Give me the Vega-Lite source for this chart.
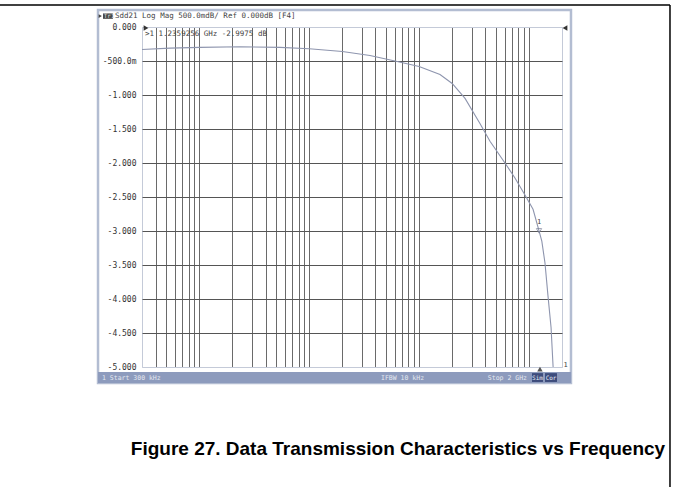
{
  "$schema": "https://vega.github.io/schema/vega-lite/v6.json",
  "width": 420,
  "height": 340,
  "autosize": "none",
  "padding": {"left": 142, "top": 27, "right": 114, "bottom": 120},
  "background": "white",
  "config": {
    "view": {"stroke": "#c4cad8", "strokeWidth": 1},
    "text": {"font": "DejaVu Sans Mono"}
  },
  "resolve": {"axis": {"x": "independent", "y": "independent"}},
  "datasets": {
    "curve": [
      {"freq": 300000, "db": -0.33},
      {"freq": 540000, "db": -0.31},
      {"freq": 1010000, "db": -0.3},
      {"freq": 2340000, "db": -0.29},
      {"freq": 5400000, "db": -0.3},
      {"freq": 10000000, "db": -0.32},
      {"freq": 20000000, "db": -0.36},
      {"freq": 35700000, "db": -0.42},
      {"freq": 60300000, "db": -0.5},
      {"freq": 100000000, "db": -0.58},
      {"freq": 155000000, "db": -0.7},
      {"freq": 200000000, "db": -0.83},
      {"freq": 262000000, "db": -1.05},
      {"freq": 358000000, "db": -1.42},
      {"freq": 442000000, "db": -1.68},
      {"freq": 605000000, "db": -2.0},
      {"freq": 746000000, "db": -2.22},
      {"freq": 920000000, "db": -2.47},
      {"freq": 1090000000, "db": -2.68},
      {"freq": 1235925600, "db": -2.9975},
      {"freq": 1310000000, "db": -3.15},
      {"freq": 1400000000, "db": -3.47},
      {"freq": 1490000000, "db": -3.95},
      {"freq": 1590000000, "db": -4.42},
      {"freq": 1660000000, "db": -5.0}
    ],
    "one": [{}]
  },
  "data": {"name": "one"},
  "layer": [
    {
      "data": {"name": "curve"},
      "mark": {"type": "line", "color": "#8e95ae", "strokeWidth": 1.1},
      "encoding": {
        "x": {
          "field": "freq",
          "type": "quantitative",
          "scale": {"type": "log", "domain": [300000, 2000000000], "nice": false},
          "axis": {
            "values": [400000, 500000, 600000, 700000, 800000, 900000, 1000000, 2000000, 3000000, 4000000, 5000000, 6000000, 7000000, 8000000, 9000000, 10000000, 20000000, 30000000, 40000000, 50000000, 60000000, 70000000, 80000000, 90000000, 100000000, 200000000, 300000000, 400000000, 500000000, 600000000, 700000000, 800000000, 900000000, 1000000000],
            "labels": false,
            "ticks": false,
            "domain": false,
            "grid": true,
            "gridColor": "#6a6a6a",
            "gridWidth": 1,
            "title": null
          }
        },
        "y": {
          "field": "db",
          "type": "quantitative",
          "scale": {"domain": [-5, 0], "nice": false, "zero": false},
          "axis": {
            "values": [0, -0.5, -1, -1.5, -2, -2.5, -3, -3.5, -4, -4.5, -5],
            "labelExpr": "datum.value == 0 ? '0.000' : datum.value == -0.5 ? '-500.0m' : '-' + format(-datum.value, '.3f')",
            "labelOverlap": false,
            "labelFont": "DejaVu Sans Mono",
            "labelFontSize": 8,
            "labelColor": "#333333",
            "labelPadding": 6,
            "ticks": false,
            "domain": false,
            "grid": true,
            "gridColor": {"condition": {"test": "datum.value == 0 || datum.value == -5", "value": "#c4cad8"}, "value": "#555555"},
            "gridWidth": 1,
            "title": null
          }
        }
      }
    },
    {
      "mark": {"type": "rect", "fill": "transparent", "stroke": "#b3bdd2", "strokeWidth": 2.5},
      "encoding": {
        "x": {"datum": 119300, "type": "quantitative", "axis": null},
        "x2": {"datum": 2414000000},
        "y": {"datum": 0.25, "type": "quantitative", "axis": null},
        "y2": {"datum": -5.235}
      }
    },
    {
      "mark": {"type": "rect", "fill": "#8d9bbd"},
      "encoding": {
        "x": {"datum": 119300, "type": "quantitative", "axis": null},
        "x2": {"datum": 2414000000},
        "y": {"datum": -5.074, "type": "quantitative", "axis": null},
        "y2": {"datum": -5.235}
      }
    },
    {
      "mark": {"type": "rule", "color": "black", "strokeWidth": 1.5},
      "encoding": {
        "x": {"datum": 10000, "type": "quantitative", "axis": null},
        "x2": {"datum": 19240000000},
        "y": {"datum": 0.3235, "type": "quantitative", "axis": null}
      }
    },
    {
      "mark": {"type": "rule", "color": "black", "strokeWidth": 1.5},
      "encoding": {
        "x": {"datum": 19240000000, "type": "quantitative", "axis": null},
        "y": {"datum": 0.3235, "type": "quantitative", "axis": null},
        "y2": {"datum": -7.5}
      }
    },
    {
      "mark": {"type": "text", "fontSize": 7.5, "color": "#444", "align": "left", "baseline": "middle"},
      "encoding": {
        "x": {"datum": 319500, "type": "quantitative", "axis": null},
        "y": {"datum": -0.103, "type": "quantitative", "axis": null},
        "text": {"value": ">1  1.2359256 GHz -2.9975 dB"}
      }
    },
    {
      "mark": {"type": "point", "shape": "triangle-down", "filled": false, "stroke": "#7a8098", "size": 28, "strokeWidth": 1},
      "encoding": {
        "x": {"datum": 1235925600, "type": "quantitative", "axis": null},
        "y": {"datum": -2.9975, "type": "quantitative", "axis": null}
      }
    },
    {
      "mark": {"type": "text", "fontSize": 7, "color": "#444", "dy": -9},
      "encoding": {
        "x": {"datum": 1235925600, "type": "quantitative", "axis": null},
        "y": {"datum": -2.9975, "type": "quantitative", "axis": null},
        "text": {"value": "1"}
      }
    },
    {
      "mark": {"type": "point", "shape": "triangle-right", "filled": true, "color": "#333", "size": 30, "opacity": 1},
      "encoding": {
        "x": {"datum": 326300, "type": "quantitative", "axis": null},
        "y": {"datum": -0.015, "type": "quantitative", "axis": null}
      }
    },
    {
      "mark": {"type": "point", "shape": "triangle-left", "filled": true, "color": "#333", "size": 30, "opacity": 1},
      "encoding": {
        "x": {"datum": 2129000000, "type": "quantitative", "axis": null},
        "y": {"datum": -0.015, "type": "quantitative", "axis": null}
      }
    },
    {
      "mark": {"type": "point", "shape": "triangle-up", "filled": true, "color": "#555", "size": 30, "opacity": 1},
      "encoding": {
        "x": {"datum": 1260000000, "type": "quantitative", "axis": null},
        "y": {"datum": -5.03, "type": "quantitative", "axis": null}
      }
    },
    {
      "mark": {"type": "text", "fontSize": 7, "color": "#444", "align": "center", "baseline": "middle"},
      "encoding": {
        "x": {"datum": 2160000000, "type": "quantitative", "axis": null},
        "y": {"datum": -4.97, "type": "quantitative", "axis": null},
        "text": {"value": "1"}
      }
    },
    {
      "mark": {"type": "rect", "fill": "#4a4a4a"},
      "encoding": {
        "x": {"datum": 132500, "type": "quantitative", "axis": null},
        "x2": {"datum": 163000},
        "y": {"datum": 0.2, "type": "quantitative", "axis": null},
        "y2": {"datum": 0.12}
      }
    },
    {
      "mark": {"type": "text", "fontSize": 6, "color": "#ddd", "align": "left", "baseline": "middle"},
      "encoding": {
        "x": {"datum": 134500, "type": "quantitative", "axis": null},
        "y": {"datum": 0.16, "type": "quantitative", "axis": null},
        "text": {"value": "Tr1"}
      }
    },
    {
      "mark": {"type": "point", "shape": "triangle-right", "filled": true, "color": "#444", "size": 14, "opacity": 1},
      "encoding": {
        "x": {"datum": 125000, "type": "quantitative", "axis": null},
        "y": {"datum": 0.16, "type": "quantitative", "axis": null}
      }
    },
    {
      "mark": {"type": "text", "fontSize": 7.5, "color": "#444", "align": "left", "baseline": "middle"},
      "encoding": {
        "x": {"datum": 170300, "type": "quantitative", "axis": null},
        "y": {"datum": 0.16, "type": "quantitative", "axis": null},
        "text": {"value": "Sdd21 Log Mag 500.0mdB/ Ref 0.000dB [F4]"}
      }
    },
    {
      "mark": {"type": "text", "fontSize": 6.5, "color": "#e4e8f0", "align": "left", "baseline": "middle"},
      "encoding": {
        "x": {"datum": 129700, "type": "quantitative", "axis": null},
        "y": {"datum": -5.155, "type": "quantitative", "axis": null},
        "text": {"value": "1  Start 300 kHz"}
      }
    },
    {
      "mark": {"type": "text", "fontSize": 6.5, "color": "#e4e8f0", "align": "left", "baseline": "middle"},
      "encoding": {
        "x": {"datum": 45000000, "type": "quantitative", "axis": null},
        "y": {"datum": -5.155, "type": "quantitative", "axis": null},
        "text": {"value": "IFBW 10 kHz"}
      }
    },
    {
      "mark": {"type": "text", "fontSize": 6.5, "color": "#e4e8f0", "align": "right", "baseline": "middle"},
      "encoding": {
        "x": {"datum": 960000000, "type": "quantitative", "axis": null},
        "y": {"datum": -5.155, "type": "quantitative", "axis": null},
        "text": {"value": "Stop 2 GHz"}
      }
    },
    {
      "mark": {"type": "rect", "fill": "#3d4c7c"},
      "encoding": {
        "x": {"datum": 1066000000, "type": "quantitative", "axis": null},
        "x2": {"datum": 1342000000},
        "y": {"datum": -5.09, "type": "quantitative", "axis": null},
        "y2": {"datum": -5.22}
      }
    },
    {
      "mark": {"type": "rect", "fill": "#3d4c7c"},
      "encoding": {
        "x": {"datum": 1400000000, "type": "quantitative", "axis": null},
        "x2": {"datum": 1800000000},
        "y": {"datum": -5.09, "type": "quantitative", "axis": null},
        "y2": {"datum": -5.22}
      }
    },
    {
      "mark": {"type": "text", "fontSize": 6, "color": "#e8ecf4", "align": "center", "baseline": "middle"},
      "encoding": {
        "x": {"datum": 1196000000, "type": "quantitative", "axis": null},
        "y": {"datum": -5.155, "type": "quantitative", "axis": null},
        "text": {"value": "Sim"}
      }
    },
    {
      "mark": {"type": "text", "fontSize": 6, "color": "#e8ecf4", "align": "center", "baseline": "middle"},
      "encoding": {
        "x": {"datum": 1590000000, "type": "quantitative", "axis": null},
        "y": {"datum": -5.155, "type": "quantitative", "axis": null},
        "text": {"value": "Cor"}
      }
    },
    {
      "mark": {"type": "text", "font": "Liberation Sans", "fontWeight": "bold", "fontSize": 19, "color": "black", "align": "center", "baseline": "alphabetic"},
      "encoding": {
        "x": {"datum": 64200000, "type": "quantitative", "axis": null},
        "y": {"datum": -6.3, "type": "quantitative", "axis": null},
        "text": {"value": "Figure 27. Data Transmission Characteristics vs Frequency"}
      }
    }
  ]
}
